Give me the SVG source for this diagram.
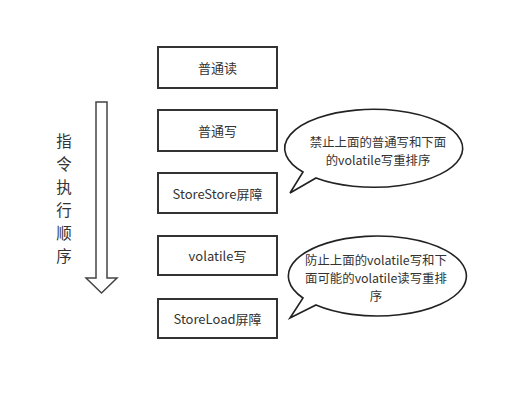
<svg xmlns="http://www.w3.org/2000/svg" width="527" height="401" viewBox="0 0 527 401">
<style>
.box{fill:#fff;stroke:#333;stroke-width:2}
.bub{fill:#fff;stroke:#222;stroke-width:1.6}
.t{font-family:"Noto Sans CJK SC","Liberation Sans",sans-serif;font-size:13px;fill:#333;text-anchor:middle;dominant-baseline:central}
.b{font-family:"Noto Sans CJK SC","Liberation Sans",sans-serif;font-size:12.4px;fill:#333;text-anchor:middle;dominant-baseline:central}
.v{font-family:"Noto Sans CJK SC","Liberation Sans",sans-serif;font-size:15.5px;fill:#333;text-anchor:middle;dominant-baseline:central}
</style>
<rect width="527" height="401" fill="#fff"/>
<g id="order-label">
<text class="v" x="64" y="140">指</text>
<text class="v" x="64" y="163">令</text>
<text class="v" x="64" y="186">执</text>
<text class="v" x="64" y="209">行</text>
<text class="v" x="64" y="232">顺</text>
<text class="v" x="64" y="255">序</text>
</g>
<g id="order-arrow">
<polygon points="96,102 107,102 107,278 117,278 101.5,293 86,278 96,278" fill="#fff" stroke="#444" stroke-width="1.5"/>
</g>
<g id="n1"><rect class="box" x="158" y="47" width="119" height="41"/><text class="t" x="217.5" y="67.5">普通读</text></g>
<g id="n2"><rect class="box" x="158" y="110" width="119" height="41"/><text class="t" x="217.5" y="130.5">普通写</text></g>
<g id="n3"><rect class="box" x="158" y="173" width="119" height="40"/><text class="t" x="217.5" y="193">StoreStore屏障</text></g>
<g id="n4"><rect class="box" x="158" y="236" width="119" height="39"/><text class="t" x="217.5" y="255.5">volatile写</text></g>
<g id="n5"><rect class="box" x="158" y="299" width="119" height="39"/><text class="t" x="217.5" y="318.5">StoreLoad屏障</text></g>
<g id="c1">
<path class="bub" d="M303,172 A89 39 0 1 1 316,178 L290,193 Z"/>
<text class="b" x="378" y="142">禁止上面的普通写和下面</text>
<text class="b" x="378" y="160">的volatile写重排序</text>
</g>
<g id="c2">
<path class="bub" d="M303,298 A89 40 0 1 1 316,305 L290,318 Z"/>
<text class="b" x="376" y="260">防止上面的volatile写和下</text>
<text class="b" x="376" y="278">面可能的volatile读写重排</text>
<text class="b" x="376" y="296">序</text>
</g>
<g id="connectors"></g>
</svg>
